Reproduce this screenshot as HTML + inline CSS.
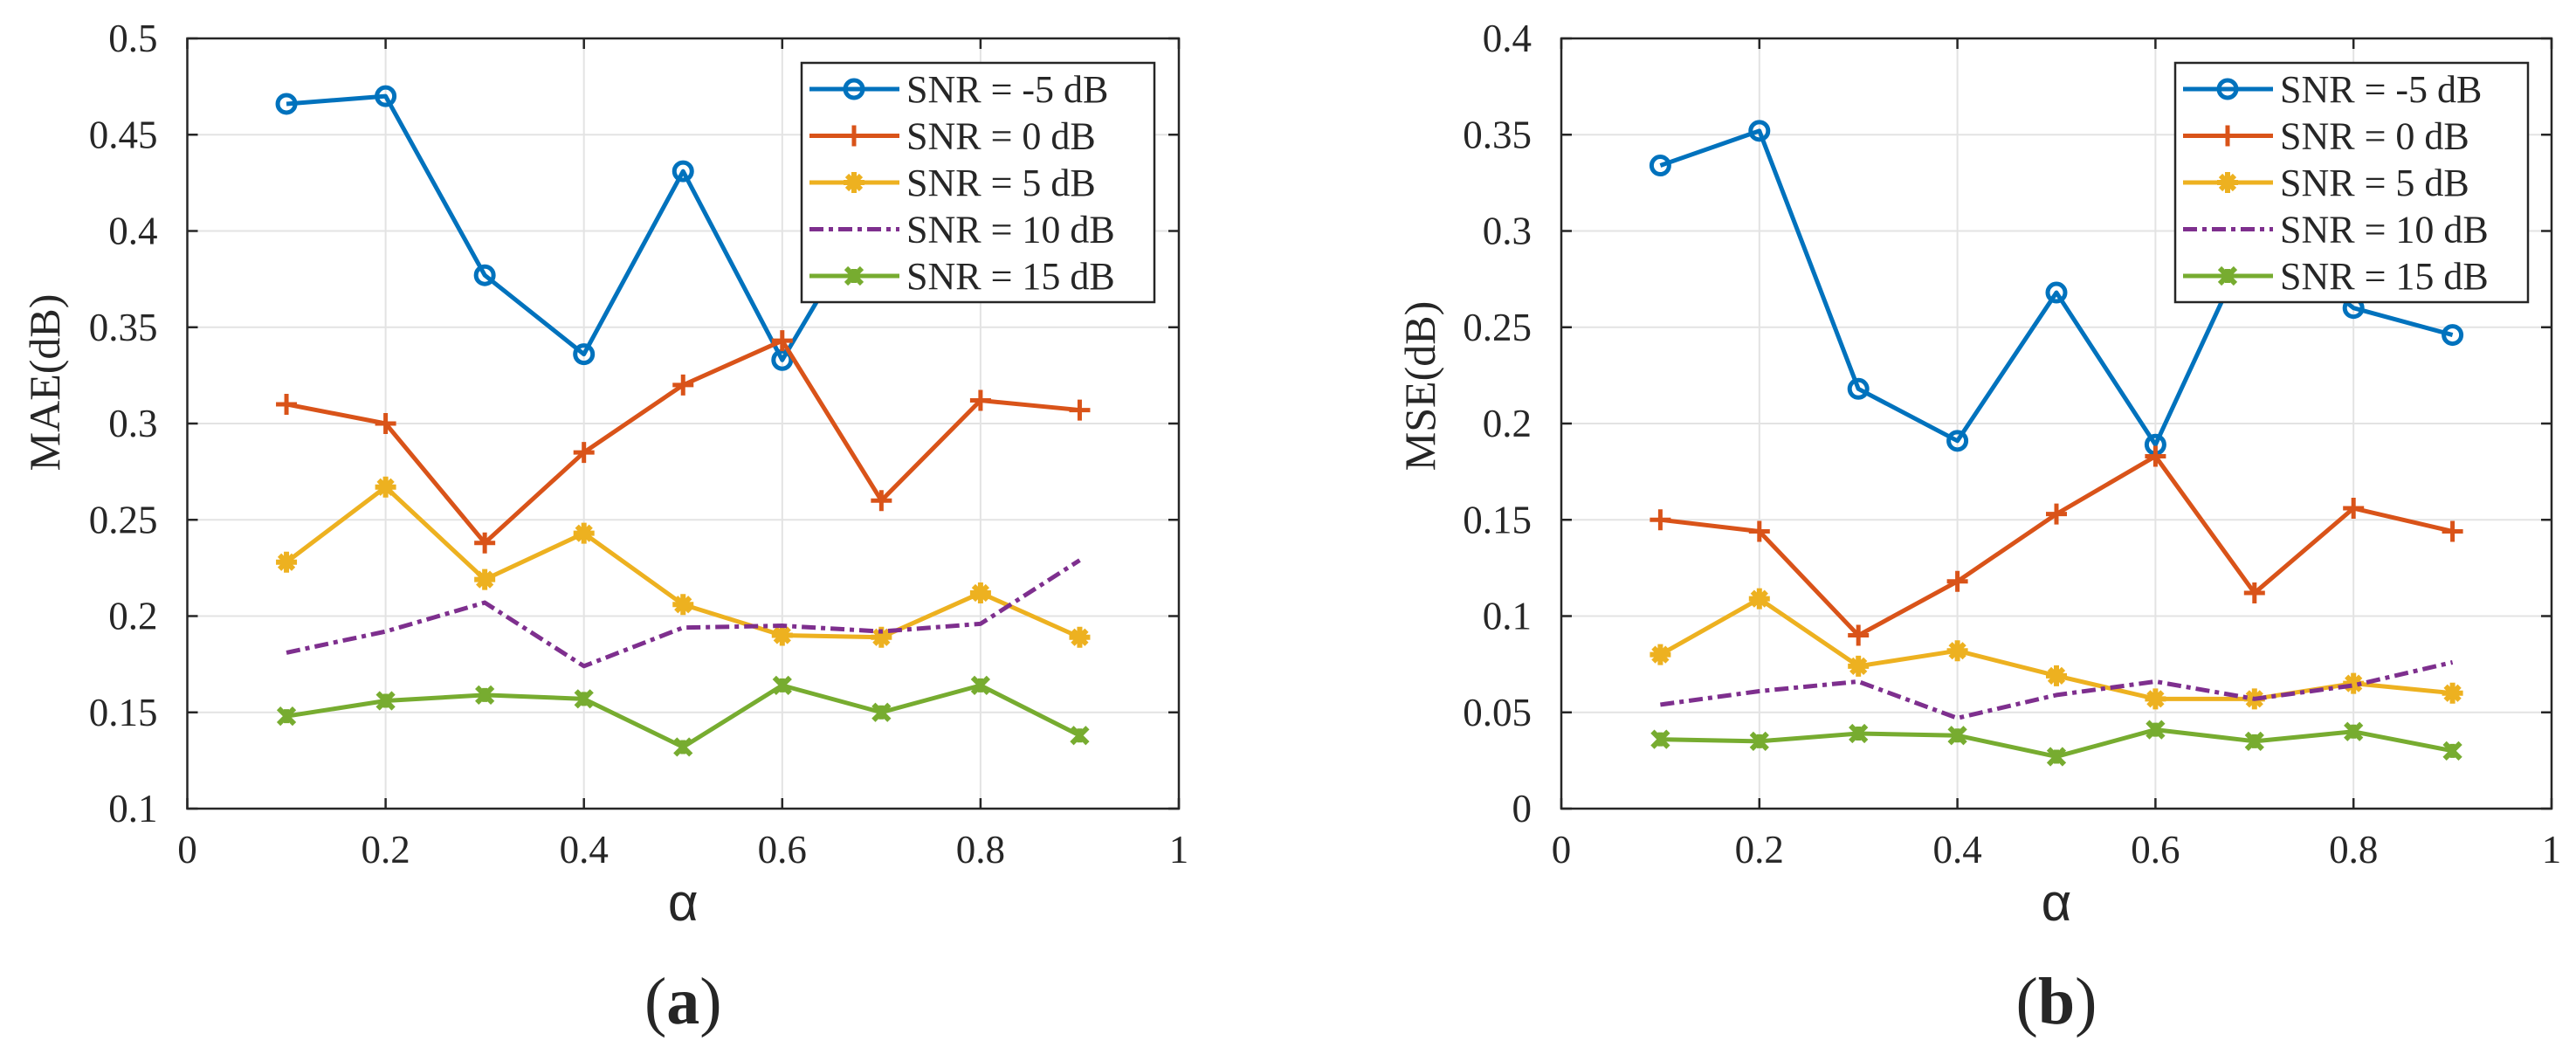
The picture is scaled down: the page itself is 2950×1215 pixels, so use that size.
<!DOCTYPE html>
<html><head><meta charset="utf-8"><style>
html,body{margin:0;padding:0;background:#fff;}
svg{display:block;}
text{font-family:"Liberation Serif",serif;fill:#262626;}
</style></head><body>
<svg id="fig" width="2950" height="1215" viewBox="0 0 2950 1215" xmlns="http://www.w3.org/2000/svg"></svg>
<script>
const alphaValues = [0.1,0.2,0.3,0.4,0.5,0.6,0.7,0.8,0.9];
const seriesNames = ["SNR = -5 dB","SNR = 0 dB","SNR = 5 dB","SNR = 10 dB","SNR = 15 dB"];
const maeM5 = [0.466,0.470,0.377,0.336,0.431,0.333,0.42,0.44,0.40];
const mae0 = [0.310,0.300,0.238,0.285,0.320,0.343,0.260,0.312,0.307];
const mae5 = [0.228,0.267,0.219,0.243,0.206,0.190,0.189,0.212,0.189];
const mae10 = [0.181,0.192,0.207,0.174,0.194,0.195,0.192,0.196,0.229];
const mae15 = [0.148,0.156,0.159,0.157,0.132,0.164,0.150,0.164,0.138];
const mseM5 = [0.334,0.352,0.218,0.191,0.268,0.189,0.30,0.260,0.246];
const mse0 = [0.150,0.144,0.090,0.118,0.153,0.183,0.112,0.156,0.144];
const mse5 = [0.080,0.109,0.074,0.082,0.069,0.057,0.057,0.065,0.060];
const mse10 = [0.054,0.061,0.066,0.047,0.059,0.066,0.057,0.064,0.076];
const mse15 = [0.036,0.035,0.039,0.038,0.027,0.041,0.035,0.040,0.030];
const xTicks = [0,0.2,0.4,0.6,0.8,1];
const xTickLabels = ["0","0.2","0.4","0.6","0.8","1"];
const maeTicks = [0.1,0.15,0.2,0.25,0.3,0.35,0.4,0.45,0.5];
const maeTickLabels = ["0.1","0.15","0.2","0.25","0.3","0.35","0.4","0.45","0.5"];
const mseTicks = [0,0.05,0.1,0.15,0.2,0.25,0.3,0.35,0.4];
const mseTickLabels = ["0","0.05","0.1","0.15","0.2","0.25","0.3","0.35","0.4"];

const NS="http://www.w3.org/2000/svg";
const svg=document.getElementById('fig');
const colors=["#0072BD","#D95319","#EDB120","#7E2F8E","#77AC30"];
const markers=["circle","plus","star","none","x"];
function mk(tag,attrs,parent){const e=document.createElementNS(NS,tag);for(const k in attrs)e.setAttribute(k,attrs[k]);(parent||svg).appendChild(e);return e;}

function marker(g,type,x,y,c){
  if(type==="circle"){const m=mk('circle',{cx:x,cy:y,r:10,fill:'none',stroke:c,'stroke-width':5},g);}
  else if(type==="plus"){const m=mk('path',{d:`M${x-12},${y}H${x+12}M${x},${y-12}V${y+12}`,stroke:c,'stroke-width':5,fill:'none'},g);}
  else if(type==="star"){const m=mk('path',{d:`M${x-12},${y}H${x+12}M${x},${y-12}V${y+12}M${x-8},${y-8}L${x+8},${y+8}M${x-8},${y+8}L${x+8},${y-8}`,stroke:c,'stroke-width':6,fill:'none'},g);mk('circle',{cx:x,cy:y,r:7,fill:c},g);}
  else if(type==="x"){const m=mk('path',{d:`M${x-9},${y-9}L${x+9},${y+9}M${x-9},${y+9}L${x+9},${y-9}M${x},${y-8}V${y+8}`,stroke:c,'stroke-width':6,fill:'none'},g);}
}

function panel(opts){
  const L=opts.left,R=opts.right,T=44,B=926;
  const sx=v=>L+(v-0)/(1-0)*(R-L);
  const sy=v=>B-(v-opts.ymin)/(opts.ymax-opts.ymin)*(B-T);
  const g=mk('g',{});
  
  
  // grid
  xTicks.forEach(t=>{const l=mk('line',{x1:sx(t),x2:sx(t),y1:T,y2:B,stroke:'#e3e3e3','stroke-width':2},g);});
  opts.yticks.forEach(t=>{const l=mk('line',{x1:L,x2:R,y1:sy(t),y2:sy(t),stroke:'#e3e3e3','stroke-width':2},g);});
  // series
  opts.series.forEach((s,i)=>{
    const pts=alphaValues.map((a,j)=>sx(a)+','+sy(s[j])).join(' ');
    const pl=mk('polyline',{points:pts,fill:'none',stroke:colors[i],'stroke-width':5,'stroke-linejoin':'round'},g);
    if(i===3)pl.setAttribute('stroke-dasharray','16 6 5 6');
    
    
    alphaValues.forEach((a,j)=>{if(markers[i]!=="none")marker(g,markers[i],sx(a),sy(s[j]),colors[i]);});
  });
  // box
  const box=mk('rect',{x:L,y:T,width:R-L,height:B-T,fill:'none',stroke:'#262626','stroke-width':2.5},g);
  
  // ticks
  xTicks.forEach((t,i)=>{
    mk('path',{d:`M${sx(t)},${B}v-12M${sx(t)},${T}v12`,stroke:'#262626','stroke-width':2.5},g);
    const tx=mk('text',{x:sx(t),y:B+62,'font-size':45,'text-anchor':'middle'},g);tx.textContent=xTickLabels[i];
    
  });
  opts.yticks.forEach((t,i)=>{
    mk('path',{d:`M${L},${sy(t)}h12M${R},${sy(t)}h-12`,stroke:'#262626','stroke-width':2.5},g);
    const tx=mk('text',{x:L-34,y:sy(t)+15,'font-size':45,'text-anchor':'end'},g);tx.textContent=opts.ylabels[i];
    
  });
  // axis titles
  const xt=mk('text',{x:(L+R)/2,y:1054,'font-size':60,'text-anchor':'middle',style:'font-family:"Liberation Sans",sans-serif'},g);xt.textContent='α';
  
  const yt=mk('text',{x:0,y:0,'font-size':50,'text-anchor':'middle',transform:`translate(${opts.ytx},${opts.yty}) rotate(-90)`},g);yt.textContent=opts.ytitle;
  
  const cap=mk('text',{x:(L+R)/2,y:1172,'font-size':76,'text-anchor':'middle',style:'font-family:"Liberation Serif",serif'},g);
  cap.innerHTML='(<tspan font-weight="bold">'+opts.cap+'</tspan>)';
  
  // legend
  const lx=opts.legX, ly=72, lw=404, lh=274;
  const lg=mk('g',{},g);
  
  mk('rect',{x:lx,y:ly,width:lw,height:lh,fill:'#fff',stroke:'#262626','stroke-width':2.5},lg);
  seriesNames.forEach((n,i)=>{
    const y=102+i*53.5;
    const e=mk('g',{},lg);
    
    const ln=mk('line',{x1:lx+9,x2:lx+112,y1:y,y2:y,stroke:colors[i],'stroke-width':5},e);
    if(i===3)ln.setAttribute('stroke-dasharray','16 6 5 6');
    if(markers[i]!=="none")marker(e,markers[i],lx+60,y,colors[i]);
    const t=mk('text',{x:lx+120,y:y+15,'font-size':44},e);t.textContent=n;
  });
}
panel({name:'mae-chart',left:214.5,right:1350,ymin:0.1,ymax:0.5,yticks:maeTicks,ylabels:maeTickLabels,
  series:[maeM5,mae0,mae5,mae10,mae15],ytitle:'MAE(dB)',ytx:68,yty:438,cap:'a',legX:918});
panel({name:'mse-chart',left:1788,right:2922,ymin:0,ymax:0.4,yticks:mseTicks,ylabels:mseTickLabels,
  series:[mseM5,mse0,mse5,mse10,mse15],ytitle:'MSE(dB)',ytx:1643,yty:442,cap:'b',legX:2491});
</script>
</body></html>
